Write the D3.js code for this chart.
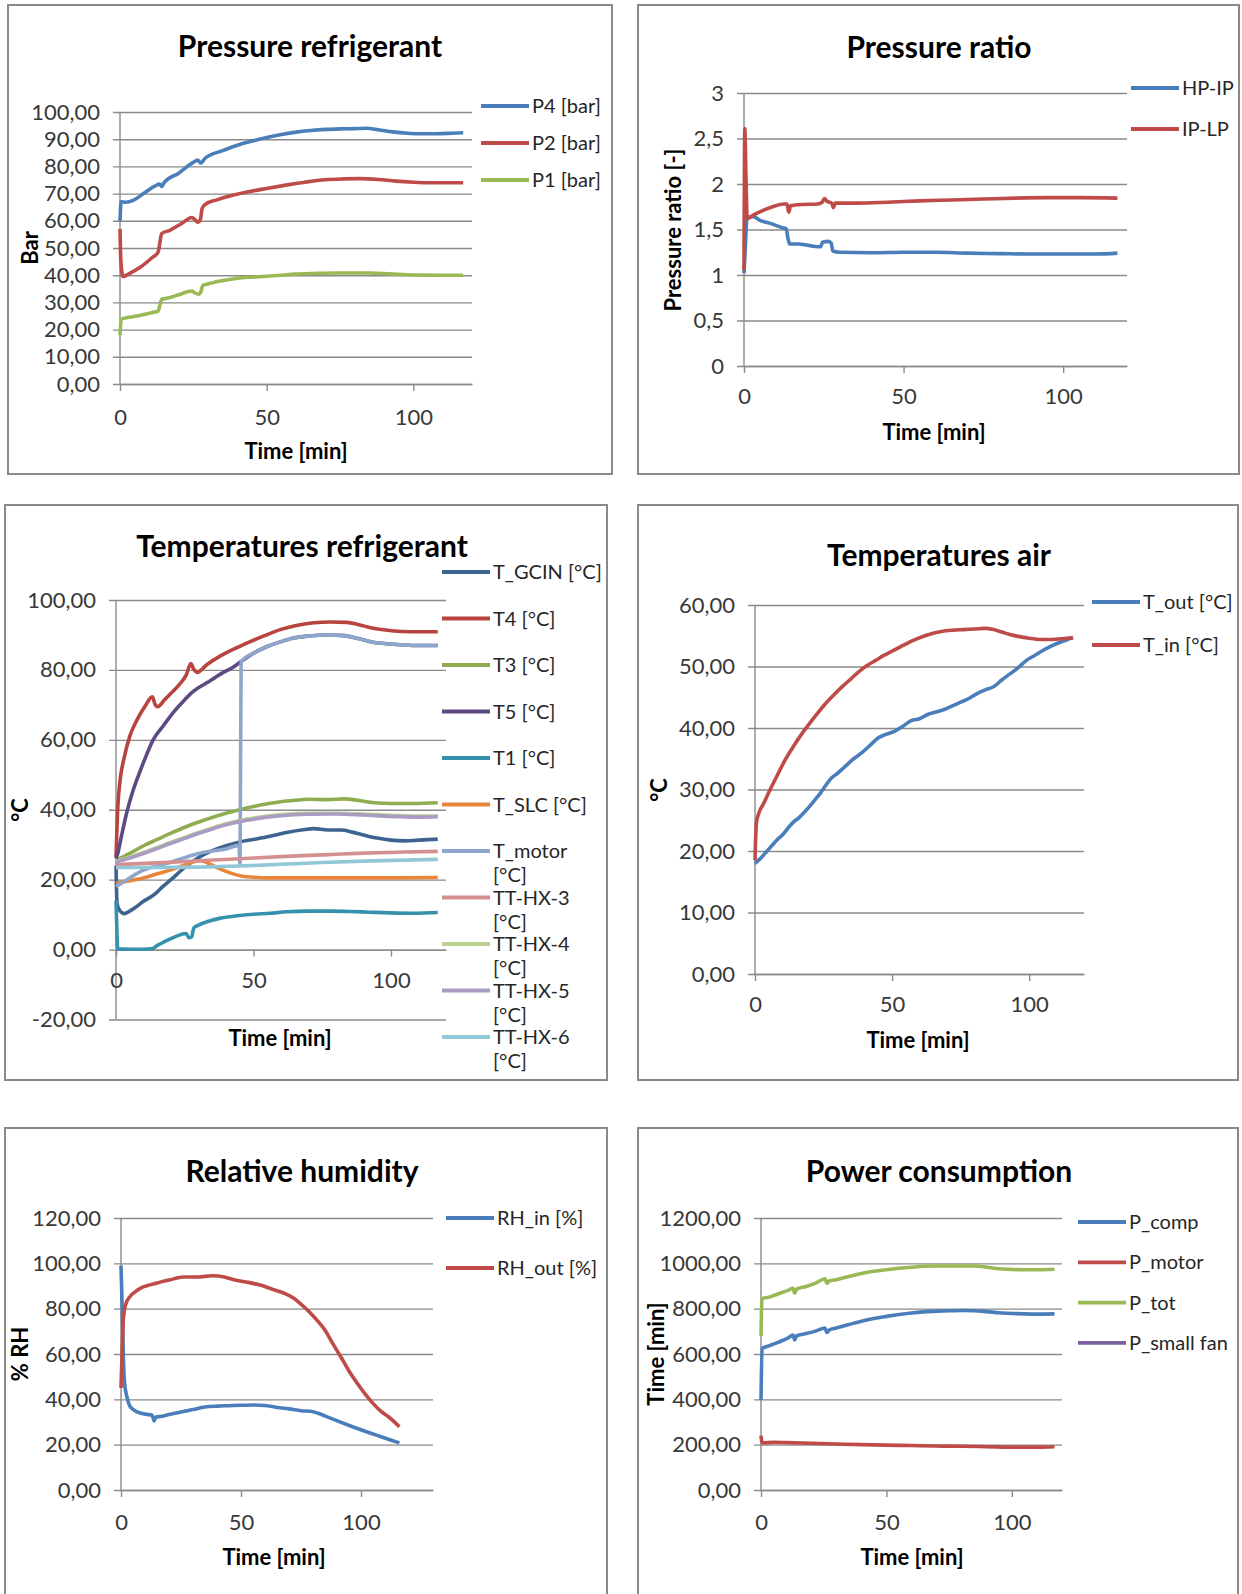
<!DOCTYPE html>
<html>
<head>
<meta charset="utf-8">
<script src="https://cdn.jsdelivr.net/npm/d3@7"></script>
<style>
  body { margin: 0; background: #fff; }
  svg { display: block; font-family: Lato, "Open Sans", sans-serif; }
</style>
</head>
<body>
<svg id="chart" width="1242" height="1594"></svg>
<script>
// values, as [time in min, value]

// Pressure refrigerant
var p4Bar = [[0,60],[0.4,67],[2,66.8],[4.5,67.5],[8,70],[12,72.8],[13.5,73.5],[14.2,72.6],[15,74],[20,77.5],[25,81.5],[26.5,82.3],[27.5,81.2],[29,83],[35,85.8],[40,87.8],[45,89.3],[50,90.6],[55,91.7],[60,92.6],[65,93.2],[70,93.6],[75,93.8],[80,93.9],[84,94],[88,93.5],[93,92.7],[98,92.2],[103,92],[108,92],[113,92.2],[117,92.4]];
var p2Bar = [[0,57],[0.3,45],[1,39.5],[3,40.5],[7,43],[11,46.5],[13,48.5],[13.6,52],[14.2,55.3],[17,56.5],[21,59],[24.5,61.2],[25.5,60.5],[26.5,59.5],[27.4,60.5],[28,64.5],[29,66],[33,67.7],[38,69.3],[43,70.5],[50,71.9],[57,73.2],[63,74.2],[70,75.1],[76,75.4],[82,75.5],[88,75.2],[94,74.6],[100,74.2],[106,74],[112,74],[117,74]];
var p1Bar = [[0,18],[0.4,23.8],[3,24.5],[7,25.3],[11,26.3],[13,26.8],[13.6,29],[14.2,31.2],[16,31.5],[20,32.8],[24.5,34.2],[25.5,33.5],[26.8,33],[27.6,34],[28.2,36.2],[30,36.8],[35,38],[40,38.9],[45,39.3],[50,39.6],[55,40],[60,40.4],[68,40.7],[75,40.8],[85,40.8],[92,40.5],[100,40.1],[110,40],[117,40]];
var pressureLabels = ["P4 [bar]", "P2 [bar]", "P1 [bar]"];

// Pressure ratio
var hpIp = [[0,1.02],[0.4,1.3],[1,1.64],[3,1.64],[5,1.6],[8,1.57],[12,1.52],[13.2,1.51],[13.8,1.4],[14.3,1.34],[17,1.34],[21,1.32],[24,1.31],[24.6,1.36],[26.5,1.37],[27.3,1.35],[27.9,1.26],[30,1.25],[40,1.245],[50,1.25],[60,1.25],[70,1.24],[80,1.235],[90,1.23],[100,1.23],[110,1.23],[117,1.24]];
var ipLp = [[0,1.05],[0.25,2.61],[0.6,2.1],[1,1.62],[3,1.66],[6,1.71],[9,1.75],[12.5,1.78],[13.5,1.78],[14,1.69],[14.6,1.76],[18,1.775],[23,1.78],[24.5,1.8],[25.2,1.84],[26,1.81],[27.5,1.79],[28,1.74],[28.6,1.79],[35,1.79],[45,1.8],[55,1.815],[65,1.825],[75,1.835],[85,1.845],[95,1.85],[105,1.85],[117,1.845]];
var ratioLabels = ["HP-IP", "IP-LP"];

// Temperatures refrigerant
var tGcin = [[0,24],[0.4,13],[1.5,11],[3,10.3],[6,11.5],[10,13.8],[14,15.8],[17,18],[20,20],[25,23.5],[30,26.3],[35,28.3],[40,29.7],[45,30.8],[50,31.5],[56,32.4],[62,33.5],[68,34.3],[72,34.6],[77,34.2],[82,34.2],[86,33.6],[90,32.8],[95,31.9],[100,31.3],[105,31.1],[110,31.3],[117,31.6]];
var t4 = [[0,26.5],[0.6,40],[1.5,48.5],[3,55],[5,61],[7.5,65.5],[10.5,69.5],[13.2,72.3],[14.3,70],[15.2,69.5],[17.5,71.3],[20,73.3],[23,75.8],[25.5,78.5],[27.2,81.8],[28.2,80.3],[29.5,79.3],[33,81.5],[38,84],[43,86],[48,87.8],[54,89.8],[60,91.6],[66,92.8],[72,93.5],[78,93.7],[84,93.6],[88,93],[93,92],[98,91.4],[104,91],[110,90.9],[117,90.9]];
var t3 = [[0,25.5],[5,27.5],[10,29.7],[15,31.5],[20,33.3],[25,35],[30,36.5],[35,37.8],[40,39],[45,40],[50,40.9],[55,41.7],[60,42.3],[65,42.7],[70,43],[77,42.9],[83,43.1],[88,42.7],[94,42],[100,41.8],[108,41.8],[117,42]];
var t5 = [[0,26],[0.8,28],[2,32.5],[4,39.5],[6,45],[8.5,50.5],[11,55.5],[13.5,60],[17,63.8],[21,68],[25,71.5],[28,73.8],[33,76.3],[38,78.8],[43,81],[45.5,82.4],[50,84.8],[55,86.7],[60,88.1],[65,89.2],[70,89.7],[77,90],[83,89.8],[88,89],[93,88],[100,87.4],[108,87],[117,87]];
var t1 = [[0,14],[0.3,6],[0.6,0.2],[5,0.1],[10,0.1],[13,0.2],[15,1.2],[18,2.4],[21,3.5],[24,4.4],[25.5,4.6],[26.5,3.4],[27.5,3.6],[28.3,6.2],[30,7],[34,8.2],[38,9],[44,9.7],[50,10.1],[56,10.4],[62,10.8],[70,11],[78,11],[85,10.9],[92,10.7],[100,10.5],[108,10.4],[117,10.6]];
var tSlc = [[0,19],[5,19.7],[10,20.5],[15,21.7],[20,22.8],[25,24.2],[29,25.3],[31,25.4],[34,24.5],[38,23],[42,21.8],[46,21],[50,20.7],[55,20.5],[65,20.5],[80,20.5],[95,20.5],[117,20.6]];
var tMotor = [[0,18],[3,19.5],[6,21],[10,22.7],[15,24],[20,25],[25,26.3],[30,27.5],[35,28.2],[40,28.8],[44.7,29.8],[45.1,24.2],[45.5,82.4],[50,84.8],[55,86.7],[60,88.1],[65,89.2],[70,89.7],[77,90],[83,89.8],[88,89],[93,88],[100,87.4],[108,87],[117,87]];
var ttHx3 = [[0,24.3],[15,24.8],[30,25.4],[45,26],[60,26.6],[75,27.1],[90,27.6],[105,27.9],[117,28.1]];
var ttHx4 = [[0,25.2],[5,26.5],[10,27.8],[15,29.2],[20,30.7],[25,32.1],[30,33.5],[35,34.8],[40,36],[45,36.9],[50,37.6],[55,38.2],[60,38.6],[70,39],[80,39],[90,38.8],[100,38.4],[110,38.2],[117,38.3]];
var ttHx5 = [[0,25],[5,26.2],[10,27.5],[15,28.9],[20,30.4],[25,31.8],[30,33.2],[35,34.5],[40,35.7],[45,36.6],[50,37.3],[55,37.9],[60,38.3],[70,38.7],[80,38.8],[90,38.5],[100,38.1],[110,37.9],[117,38]];
var ttHx6 = [[0,23.5],[15,23.5],[30,23.6],[45,23.9],[60,24.4],[75,24.9],[90,25.3],[105,25.6],[117,25.8]];
var refTempLabels = ["T_GCIN [°C]", "T4 [°C]", "T3 [°C]", "T5 [°C]", "T1 [°C]", "T_SLC [°C]", "T_motor [°C]", "TT-HX-3 [°C]", "TT-HX-4 [°C]", "TT-HX-5 [°C]", "TT-HX-6 [°C]"];

// Temperatures air
var tOut = [[0,18],[2,18.8],[4,19.8],[6,20.8],[8,21.8],[10,22.6],[12,23.7],[14,24.7],[16,25.4],[18,26.3],[20,27.3],[22,28.4],[24,29.5],[26,30.8],[28,31.9],[30,32.6],[33,33.8],[36,35],[39,36],[42,37.2],[45,38.4],[48,39],[51,39.5],[54,40.3],[57,41.2],[60,41.5],[63,42.2],[66,42.6],[69,43],[72,43.6],[75,44.2],[78,44.8],[81,45.6],[84,46.2],[87,46.7],[90,47.8],[93,48.8],[96,49.8],[99,51],[102,51.8],[105,52.6],[108,53.3],[111,53.9],[114,54.4],[116,54.7]];
var tIn = [[0,18.5],[0.5,24.5],[1.5,26.3],[3,27.6],[5,29.5],[8,32.2],[11,34.8],[14,37],[17,39],[20,40.8],[23,42.5],[26,44.1],[29,45.5],[32,46.8],[35,48],[38,49.2],[41,50.2],[44,51],[47,51.8],[50,52.5],[53,53.2],[56,53.9],[59,54.5],[62,55],[65,55.4],[68,55.7],[72,55.9],[76,56],[80,56.1],[84,56.2],[87,56],[90,55.6],[93,55.2],[96,54.9],[100,54.6],[104,54.4],[108,54.4],[112,54.5],[116,54.7]];
var airLabels = ["T_out [°C]", "T_in [°C]"];

// Relative humidity
var rhIn = [[0,99],[0.5,80],[1,58],[1.5,47],[2.5,41],[3.7,37],[5.5,35.2],[8,34],[10.5,33.4],[13,33],[13.8,30.5],[14.5,32.2],[17,32.5],[20,33.3],[23,34],[26,34.6],[30,35.5],[35,36.6],[40,37],[45,37.2],[50,37.4],[55,37.5],[60,37.3],[65,36.4],[70,35.8],[75,35],[80,34.5],[83,33.5],[87,31.8],[92,29.7],[97,27.7],[102,25.8],[107,24],[112,22.2],[116,20.8]];
var rhOut = [[0,45],[0.5,62],[1,76],[2,82],[3.7,85.3],[6,87.5],[9,89.5],[12,90.5],[16,91.6],[20,92.6],[26,94],[32,94],[38,94.5],[43,94],[48,92.5],[53,91.6],[58,90.4],[63,88.6],[68,86.8],[72,84.6],[75.5,81.5],[78.5,78.5],[82,74.5],[85,70.5],[88,65],[92,58],[95,52.5],[98.5,47],[102,42],[105,38.2],[108,35],[111.6,32.2],[116,27.9]];
var rhLabels = ["RH_in [%]", "RH_out [%]"];

// Power consumption
var pComp = [[0,397],[0.4,625],[3,635],[7,652],[11,672],[12.8,684],[13.4,662],[14.2,680],[18,690],[22,702],[25.5,715],[26.3,695],[27.2,706],[30,715],[35,730],[40,745],[45,757],[50,766],[55,774],[60,781],[65,786],[70,789],[75,791],[80,792],[85,791],[90,787],[95,782],[100,779],[105,777],[110,776],[117,777]];
var pMotor = [[0,240],[0.5,208],[5,210],[10,209],[20,206],[30,203],[40,200],[50,198],[60,196],[70,194],[80,193],[90,191],[100,189],[110,189],[117,191]];
var pTot = [[0,680],[0.4,845],[3,850],[7,866],[11,882],[12.8,890],[13.4,868],[14.2,886],[18,898],[22,914],[25.5,932],[26.3,912],[27.2,922],[30,928],[35,942],[40,955],[45,965],[50,972],[55,978],[60,983],[65,987],[70,988],[75,988],[80,988],[85,988],[90,983],[95,976],[100,973],[105,972],[110,972],[117,974]];
var pSmallFan = []; // in the legend, no line visible
var powerLabels = ["P_comp", "P_motor", "P_tot", "P_small fan"];

// tick values
var timeTicks = [0, 50, 100];
var barTicks = [0, 10, 20, 30, 40, 50, 60, 70, 80, 90, 100];
var ratioTicks = [0, 0.5, 1, 1.5, 2, 2.5, 3];
var refTempTicks = [-20, 0, 20, 40, 60, 80, 100];
var airTicks = [0, 10, 20, 30, 40, 50, 60];
var rhTicks = [0, 20, 40, 60, 80, 100, 120];
var powerTicks = [0, 200, 400, 600, 800, 1000, 1200];

var comma = d3.formatLocale({decimal: ",", thousands: "", grouping: [3], currency: ["", ""], minus: "-"});
var fmt2 = comma.format(".2f");
var fmtRatio = comma.format("~g");

var blue = "#4a7ebb", red = "#be4b48", green = "#98b954", purple = "#7d60a0";
var gridColor = "#8a8a8a";
var tickFont = 22, legendFont = 20;

var panels = [
  {title: "Pressure refrigerant", frame: [8, 5, 612, 474], titleAt: [310, 46],
   xr: [120, 472], yr: [384, 112], xDomain: [0, 120], yDomain: [0, 100], yTicks: barTicks, yFmt: fmt2, xLabelGap: 33,
   yTitle: "Bar", yTitleAt: [30, 248], xTitleAt: [296, 451],
   series: [p4Bar, p2Bar, p1Bar], labels: pressureLabels, colors: [blue, red, green],
   legend: {x: 481, y: 106, dy: 37}},
  {title: "Pressure ratio", frame: [638, 5, 1239, 474], titleAt: [939, 47],
   xr: [744, 1127], yr: [366, 93], xDomain: [0, 120], yDomain: [0, 3], yTicks: ratioTicks, yFmt: fmtRatio, xLabelGap: 30,
   yTitle: "Pressure ratio [-]", yTitleAt: [673, 230], xTitleAt: [934, 432],
   series: [hpIp, ipLp], labels: ratioLabels, colors: [blue, red],
   legend: {x: 1131, y: 88, dy: 41}},
  {title: "Temperatures refrigerant", frame: [5, 505, 607, 1080], titleAt: [302, 546],
   xr: [116, 446], yr: [1019.5, 600], xDomain: [0, 120], yDomain: [-20, 100], yTicks: refTempTicks, yFmt: fmt2, xLabelGap: 31,
   yTitle: "°C", yTitleAt: [20, 810], xTitleAt: [280, 1038],
   series: [tGcin, t4, t3, t5, t1, tSlc, tMotor, ttHx3, ttHx4, ttHx5, ttHx6], labels: refTempLabels,
   colors: ["#3d6390", "#b8433f", "#8eac50", "#5e4a82", "#3591ac", "#e9853a", "#8fa6cc", "#d4908e", "#bbd18f", "#a99bc4", "#92c7d8"],
   legend: {x: 442, y: 572, dy: 46.5, wrapFrom: 6}},
  {title: "Temperatures air", frame: [638, 505, 1238, 1080], titleAt: [939, 555],
   xr: [755, 1084], yr: [974, 605], xDomain: [0, 120], yDomain: [0, 60], yTicks: airTicks, yFmt: fmt2, xLabelGap: 30,
   yTitle: "°C", yTitleAt: [659, 790], xTitleAt: [918, 1040],
   series: [tOut, tIn], labels: airLabels, colors: [blue, red],
   legend: {x: 1092, y: 602, dy: 43}},
  {title: "Relative humidity", frame: [5, 1128, 607, 1620], titleAt: [302, 1171],
   xr: [121, 433], yr: [1490, 1218], xDomain: [0, 130], yDomain: [0, 120], yTicks: rhTicks, yFmt: fmt2, xLabelGap: 32,
   yTitle: "% RH", yTitleAt: [20, 1354], xTitleAt: [274, 1557],
   series: [rhIn, rhOut], labels: rhLabels, colors: [blue, red],
   legend: {x: 446, y: 1218, dy: 50}},
  {title: "Power consumption", frame: [638, 1128, 1238, 1620], titleAt: [939, 1171],
   xr: [761, 1062], yr: [1490, 1218], xDomain: [0, 120], yDomain: [0, 1200], yTicks: powerTicks, yFmt: fmt2, xLabelGap: 32,
   yTitle: "Time [min]", yTitleAt: [656, 1354], xTitleAt: [912, 1557],
   series: [pComp, pMotor, pTot, pSmallFan], labels: powerLabels, colors: [blue, red, green, purple],
   legend: {x: 1078, y: 1222, dy: 40.3}}
];

var svg = d3.select("#chart");

function drawPanel(p) {
  var g = svg.append("g");
  var f = p.frame;
  g.append("rect")
    .attr("x", f[0]).attr("y", f[1])
    .attr("width", f[2] - f[0]).attr("height", f[3] - f[1])
    .attr("fill", "#fff").attr("stroke", "#8a8a8a").attr("stroke-width", 2);

  var x = d3.scaleLinear().domain(p.xDomain).range(p.xr);
  var y = d3.scaleLinear().domain(p.yDomain).range(p.yr);
  var tick = 7;

  // y axis: gridlines run out past the axis as tick marks
  var gy = g.append("g")
    .attr("transform", "translate(" + (p.xr[0] - tick) + ",0)")
    .call(d3.axisLeft(y).tickValues(p.yTicks).tickFormat(p.yFmt)
      .tickSizeInner(-(p.xr[1] - p.xr[0] + tick)).tickSizeOuter(0).tickPadding(13));
  gy.attr("font-family", null).attr("font-size", null);
  gy.select(".domain").remove();
  gy.selectAll(".tick line").attr("stroke", gridColor).attr("stroke-width", 1.4);
  gy.selectAll(".tick text").attr("fill", "#383838").style("font-size", tickFont + "px");

  g.append("line")
    .attr("x1", p.xr[0]).attr("x2", p.xr[0])
    .attr("y1", p.yr[0]).attr("y2", p.yr[1])
    .attr("stroke", gridColor).attr("stroke-width", 1.4);

  // x axis crosses at 0
  var gx = g.append("g")
    .attr("transform", "translate(0," + y(0) + ")")
    .call(d3.axisBottom(x).tickValues(timeTicks).tickSize(tick).tickSizeOuter(0)
      .tickPadding(p.xLabelGap - tick - 0.35 * tickFont));
  gx.attr("font-family", null).attr("font-size", null);
  gx.select(".domain").attr("stroke", gridColor).attr("stroke-width", 1.4);
  gx.selectAll(".tick line").attr("stroke", gridColor).attr("stroke-width", 1.4);
  gx.selectAll(".tick text").attr("fill", "#383838").style("font-size", tickFont + "px");

  var line = d3.line()
    .x(function(d) { return x(d[0]); })
    .y(function(d) { return y(d[1]); })
    .curve(d3.curveMonotoneX);

  p.series.forEach(function(s, i) {
    if (!s.length) return;
    g.append("path").datum(s)
      .attr("d", line)
      .attr("fill", "none")
      .attr("stroke", p.colors[i])
      .attr("stroke-width", 3.6)
      .attr("stroke-linejoin", "round");
  });

  // titles
  g.append("text")
    .attr("x", p.titleAt[0]).attr("y", p.titleAt[1]).attr("dy", "0.35em")
    .attr("text-anchor", "middle")
    .style("font-size", "30px").style("font-weight", "bold")
    .text(p.title);

  g.append("text")
    .attr("transform", "translate(" + p.yTitleAt[0] + "," + p.yTitleAt[1] + ") rotate(-90)")
    .attr("dy", "0.35em")
    .attr("text-anchor", "middle")
    .style("font-size", "22px").style("font-weight", "bold")
    .text(p.yTitle);

  g.append("text")
    .attr("x", p.xTitleAt[0]).attr("y", p.xTitleAt[1]).attr("dy", "0.35em")
    .attr("text-anchor", "middle")
    .style("font-size", "22px").style("font-weight", "bold")
    .text("Time [min]");

  // legend
  var lg = p.legend;
  p.labels.forEach(function(label, i) {
    var ly = lg.y + i * lg.dy;
    g.append("line")
      .attr("x1", lg.x).attr("x2", lg.x + 48)
      .attr("y1", ly).attr("y2", ly)
      .attr("stroke", p.colors[i]).attr("stroke-width", 3.8);
    var t = g.append("text")
      .attr("x", lg.x + 51).attr("y", ly).attr("dy", "0.35em")
      .attr("fill", "#262626")
      .style("font-size", legendFont + "px");
    if (lg.wrapFrom !== undefined && i >= lg.wrapFrom) {
      var cut = label.lastIndexOf(" ");
      t.append("tspan").text(label.slice(0, cut));
      t.append("tspan").attr("x", lg.x + 51).attr("dy", "24px").text(label.slice(cut + 1));
    } else {
      t.text(label);
    }
  });
}

panels.forEach(drawPanel);
</script>
</body>
</html>
